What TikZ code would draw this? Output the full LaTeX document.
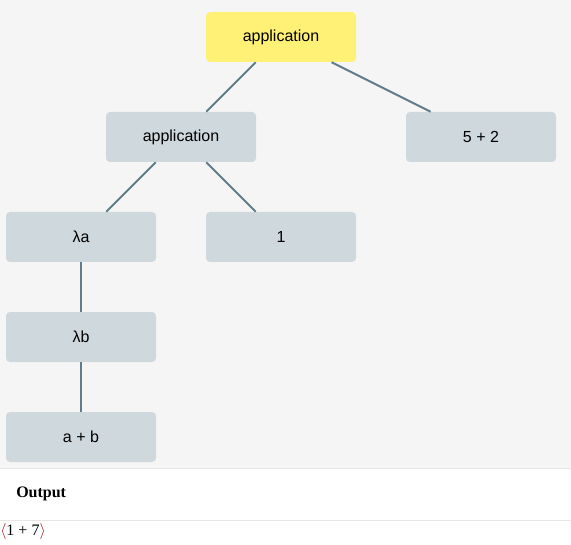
\documentclass[tikz,border=0pt]{standalone}
\usepackage{fontspec}
\setmainfont{Liberation Serif}
\newfontfamily\uisans{Liberation Sans}
\definecolor{bggrey}{HTML}{F5F5F5}
\definecolor{nodegrey}{HTML}{CFD8DC}
\definecolor{rootyellow}{HTML}{FFF176}
\definecolor{edgecol}{HTML}{607D8B}
\definecolor{rulecol}{HTML}{E6E6E6}
\definecolor{brackred}{HTML}{A31515}
\begin{document}
\begin{tikzpicture}[x=0.75pt,y=-0.75pt,
  treenode/.style={rectangle,rounded corners=3pt,fill=nodegrey,minimum width=112.5pt,minimum height=37.5pt,inner sep=0pt,font=\uisans\fontsize{12}{14}\selectfont,text=black},
  rootnode/.style={treenode,fill=rootyellow},
  link/.style={draw=edgecol,line width=1.5pt}]
\useasboundingbox (0,0) rectangle (571,545);
\fill[bggrey] (0,0) rectangle (571,468.5);
\fill[white] (0,468.5) rectangle (571,545);
\draw[rulecol,line width=0.75pt] (0,468.5) -- (571,468.5);
\draw[rulecol,line width=0.75pt] (0,520.5) -- (571,520.5);
\node[rootnode] (root) at (281,37) {application};
\node[treenode] (app) at (181,137) {application};
\node[treenode] (five) at (481,137) {5 + 2};
\node[treenode] (la) at (81,237) {λa};
\node[treenode] (one) at (281,237) {1};
\node[treenode] (lb) at (81,337) {λb};
\node[treenode] (ab) at (81,437) {a + b};
\begin{scope}[on background layer/.try]
\end{scope}
\draw[link] (root) -- (app);
\draw[link] (root) -- (five);
\draw[link] (app) -- (la);
\draw[link] (app) -- (one);
\draw[link] (la) -- (lb);
\draw[link] (lb) -- (ab);
\node[anchor=west,inner sep=0pt,font=\bfseries\fontsize{12}{14}\selectfont] (outlabel) at (16,494) {Output};
\node[anchor=west,inner sep=0pt,font=\fontsize{12}{14}\selectfont] (outval) at (0,531) {\textcolor{brackred}{$\langle$}1 + 7\textcolor{brackred}{$\rangle$}};
\end{tikzpicture}
\end{document}
